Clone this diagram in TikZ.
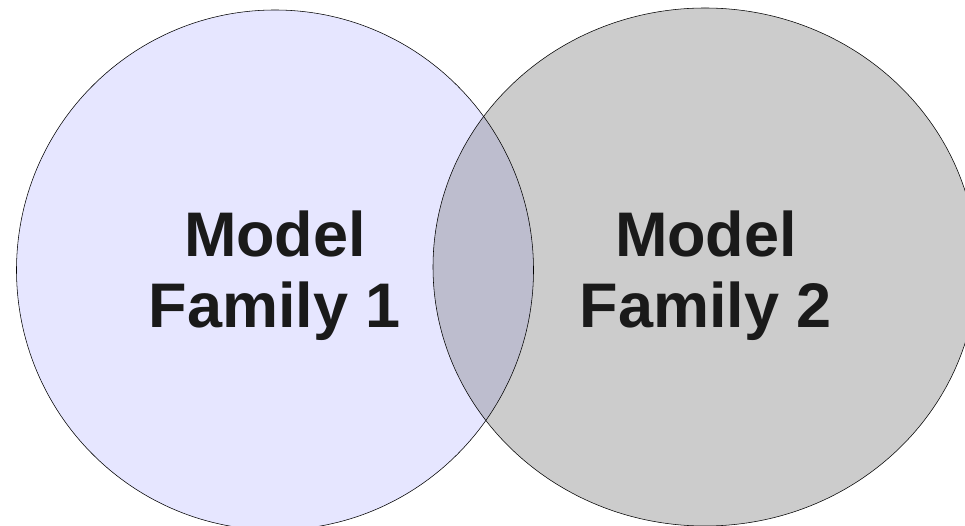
\documentclass[tikz,border=0pt]{standalone}
\usepackage{fontspec}
\setmainfont{Liberation Sans}
\usepackage{xcolor}
\definecolor{famone}{RGB}{230,230,255}
\definecolor{famtwo}{RGB}{204,204,204}
\definecolor{famboth}{RGB}{189,189,206}
\definecolor{famtext}{RGB}{26,26,26}
\tikzset{famlabel/.style = {inner sep=0, align=center, text=famtext,
                            font=\fontsize{63}{71}\selectfont\bfseries}}
\tikzset{rim/.style = {draw=black, line width=0.55pt}}

\begin{document}
\begin{tikzpicture}[x=1pt, y=-1pt]
      \useasboundingbox (0,0) rectangle (965,526);
      \fill[famone] (275,270) ellipse (258.5 and 260);
      \fill[famtwo] (705,267) ellipse (272 and 259);
      \begin{scope}
        \clip (275,270) ellipse (258.5 and 260);
        \fill[famboth] (705,267) ellipse (272 and 259);
      \end{scope}
      \draw[rim] (275,270) ellipse (258.5 and 260);
      \draw[rim] (705,267) ellipse (272 and 259);
      \node[famlabel] (fam1) at (275,276) {Model\\Family 1};
      \node[famlabel] (fam2) at (706,276) {Model\\Family 2};
    \end{tikzpicture}
\end{document}
